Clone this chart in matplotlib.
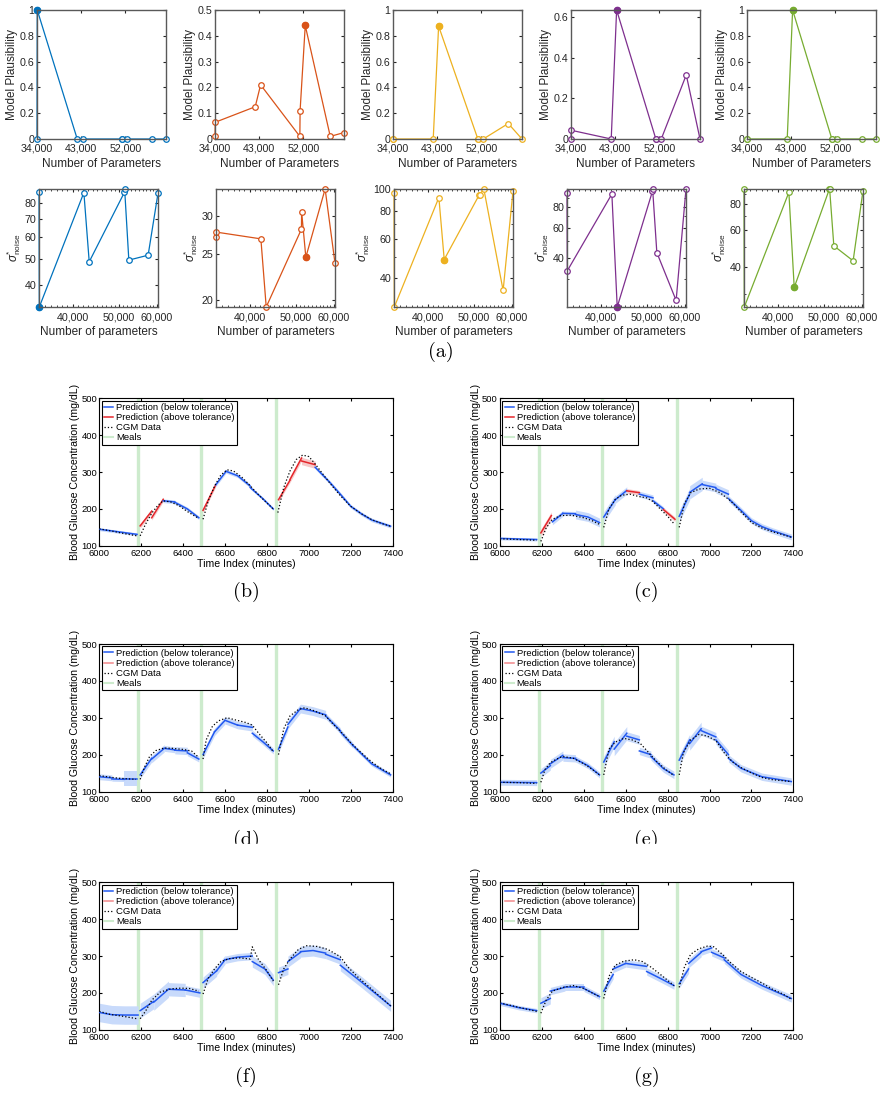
import numpy as np
import matplotlib
matplotlib.use('Agg')
import matplotlib.pyplot as plt
from matplotlib.ticker import FuncFormatter, NullFormatter
from matplotlib.lines import Line2D
from matplotlib.patches import Rectangle

plt.rcParams['font.family'] = ['Liberation Sans', 'DejaVu Sans']
plt.rcParams['mathtext.fontset'] = 'custom'
plt.rcParams['mathtext.rm'] = 'Liberation Sans'
plt.rcParams['mathtext.it'] = 'Liberation Sans:italic'

# ---- (a) model selection data ----
params = [34000, 34050, 42200, 43300, 51300, 51350, 52400, 57500, 60300]
colors = ['#0072BD', '#D95319', '#EDB120', '#7E2F8E', '#77AC30']
best = [1, 6, 3, 3, 3]

plaus_blue = [0, 1, 0, 0, 0, 0, 0, 0, 0]
plaus_orange = [0.01, 0.065, 0.125, 0.21, 0.01, 0.11, 0.44, 0.01, 0.025]
plaus_yellow = [0, 0, 0, 0.875, 0, 0, 0, 0.12, 0]
plaus_purple = [0, 0.043, 0, 0.636, 0, 0, 0, 0.316, 0]
plaus_green = [0, 0, 0, 1, 0, 0, 0, 0, 0]
plaus_top = [1, 0.5, 1, 0.636, 1]
plaus_ticks = [np.arange(0, 1.01, 0.2), np.arange(0, 0.51, 0.1), np.arange(0, 1.01, 0.2),
               np.arange(0, 0.61, 0.2), np.arange(0, 1.01, 0.2)]

noise_blue = [87.8, 33.3, 87.6, 48.8, 87.8, 90.3, 49.5, 51.6, 87.1]
noise_orange = [27.2, 27.8, 26.9, 19.3, 28.2, 30.7, 24.6, 34.3, 23.9]
noise_yellow = [95.5, 29.8, 91.6, 48.5, 94.5, 94.5, 100, 35.3, 97.9]
noise_purple = [95.9, 33.4, 95.0, 20.4, 98.5, 101.7, 42.8, 22.3, 101.7]
noise_green = [94.6, 25.9, 91.2, 32.1, 94.6, 94.6, 50.7, 43.0, 92.9]
noise_ticks = [[40, 50, 60, 70, 80], [20, 25, 30], [40, 60, 80, 100], [40, 60, 80], [40, 60, 80]]
noise_minor = [[90], [], [30, 50, 70, 90], [30, 50, 70, 90, 100], [30, 50, 70, 90]]

# ---- (b)-(g) glucose predictions ----
meals = [6185, 6485, 6845]

b_cgm = [([6000, 6060, 6120, 6180], [146, 140, 133, 127]),
         ([6195, 6220, 6250, 6280, 6305, 6340, 6380, 6420, 6475], [127, 158, 188, 210, 222, 219, 209, 193, 174]),
         ([6495, 6520, 6550, 6580, 6610, 6640, 6680, 6720, 6760, 6800, 6830], [172, 222, 262, 292, 306, 303, 286, 263, 238, 216, 200]),
         ([6852, 6880, 6910, 6940, 6970, 7000, 7030, 7070, 7110, 7150, 7200, 7250, 7300, 7350, 7390],
          [190, 258, 303, 334, 346, 342, 322, 292, 263, 236, 207, 187, 171, 160, 153])]
b_pred = [('b', [6000, 6180], [145, 131], 4),
          ('r', [6195, 6250], [154, 194], 6),
          ('r', [6250, 6305], [176, 226], 6),
          ('b', [6305, 6360], [222, 219], 5),
          ('b', [6360, 6420, 6475], [218, 200, 176], 5),
          ('r', [6495, 6555], [196, 265], 6),
          ('b', [6555, 6605], [265, 302], 5),
          ('b', [6605, 6660, 6720], [302, 290, 262], 5),
          ('b', [6720, 6780, 6830], [258, 228, 200], 4),
          ('r', [6855, 6910], [225, 278], 6),
          ('r', [6910, 6965], [280, 338], 8),
          ('r', [6965, 7030], [330, 320], 10),
          ('b', [7030, 7100, 7150, 7200, 7250, 7300, 7390], [313, 272, 240, 207, 187, 170, 153], 5)]

c_cgm = [([6000, 6090, 6175], [119, 117, 115]),
         ([6195, 6220, 6250, 6290, 6340, 6400, 6440, 6475], [112, 148, 172, 182, 183, 176, 168, 158]),
         ([6495, 6520, 6550, 6580, 6620, 6660, 6700, 6730, 6770, 6800, 6830], [150, 200, 226, 237, 240, 234, 230, 220, 197, 180, 160]),
         ([6855, 6880, 6910, 6950, 7000, 7050, 7100, 7150, 7200, 7250, 7300, 7350, 7390],
          [150, 215, 244, 254, 256, 244, 222, 192, 163, 148, 138, 130, 123])]
c_pred = [('b', [6000, 6175], [120, 117], 4),
          ('r', [6195, 6245], [135, 182], 10),
          ('b', [6250, 6300], [165, 188], 8),
          ('b', [6300, 6360], [188, 187], 6),
          ('b', [6360, 6420, 6475], [185, 178, 163], 12),
          ('b', [6495, 6550], [178, 225], 14),
          ('b', [6550, 6605], [225, 250], 10),
          ('r', [6605, 6665], [249, 244], 6),
          ('b', [6665, 6730], [240, 230], 8),
          ('b', [6730, 6780], [222, 200], 6),
          ('r', [6780, 6835], [198, 172], 6),
          ('b', [6855, 6905], [180, 240], 16),
          ('b', [6905, 6965], [245, 268], 18),
          ('b', [6965, 7030], [266, 258], 12),
          ('b', [7030, 7090], [255, 240], 12),
          ('b', [7090, 7150, 7200, 7250, 7300, 7390], [228, 196, 168, 152, 141, 124], 8)]

d_cgm = [([6000, 6090, 6175], [143, 136, 133]),
         ([6195, 6215, 6240, 6270, 6310, 6350, 6400, 6440, 6475], [133, 165, 195, 211, 218, 217, 214, 210, 192]),
         ([6495, 6510, 6540, 6570, 6610, 6650, 6700, 6730, 6760, 6800, 6830], [188, 240, 277, 292, 300, 294, 287, 280, 258, 232, 208]),
         ([6855, 6880, 6910, 6950, 6980, 7030, 7080, 7120, 7160, 7200, 7250, 7300, 7350, 7390],
          [200, 270, 305, 322, 327, 318, 305, 280, 258, 232, 205, 180, 160, 148])]
d_pred = [('b', [6000, 6060], [140, 137], 8),
          ('b', [6060, 6120], [134, 133], 6),
          ('b', [6120, 6180], [135, 135], 20),
          ('b', [6195, 6250], [145, 190], 10),
          ('b', [6250, 6310], [188, 217], 10),
          ('b', [6310, 6360], [217, 213], 8),
          ('b', [6360, 6420], [212, 210], 10),
          ('b', [6420, 6475], [205, 188], 8),
          ('b', [6495, 6550], [200, 262], 10),
          ('b', [6550, 6600], [262, 293], 10),
          ('b', [6600, 6660], [293, 280], 10),
          ('b', [6660, 6730], [280, 274], 10),
          ('b', [6730, 6780, 6830], [258, 235, 210], 8),
          ('b', [6855, 6900], [215, 275], 10),
          ('b', [6900, 6960], [282, 325], 12),
          ('b', [6960, 7020, 7080], [325, 318, 308], 12),
          ('b', [7080, 7150], [305, 265], 8),
          ('b', [7150, 7210], [262, 225], 8),
          ('b', [7210, 7300, 7390], [225, 175, 145], 6)]

e_cgm = [([6000, 6090, 6175], [125, 124, 122]),
         ([6195, 6215, 6240, 6270, 6300, 6350, 6400, 6440, 6475], [125, 160, 178, 188, 195, 190, 175, 160, 145]),
         ([6495, 6520, 6550, 6590, 6630, 6670, 6710, 6750, 6790, 6830], [145, 215, 234, 244, 240, 230, 205, 180, 160, 143]),
         ([6855, 6875, 6910, 6950, 6990, 7030, 7070, 7110, 7150, 7200, 7250, 7300, 7390],
          [145, 205, 240, 255, 250, 238, 205, 180, 165, 150, 138, 132, 127])]
e_pred = [('b', [6000, 6175], [125, 124], 8),
          ('b', [6195, 6240], [150, 170], 12),
          ('b', [6240, 6300], [175, 198], 12),
          ('b', [6300, 6360], [192, 190], 10),
          ('b', [6360, 6420, 6475], [188, 170, 145], 8),
          ('b', [6495, 6545], [180, 235], 15),
          ('b', [6545, 6605], [215, 258], 18),
          ('b', [6605, 6665], [250, 240], 12),
          ('b', [6665, 6720], [210, 200], 10),
          ('b', [6720, 6780, 6830], [195, 162, 145], 10),
          ('b', [6855, 6905], [185, 240], 15),
          ('b', [6905, 6960], [230, 270], 18),
          ('b', [6960, 7030], [265, 248], 12),
          ('b', [7030, 7090], [240, 200], 12),
          ('b', [7090, 7150, 7250, 7390], [190, 163, 140, 127], 10)]

f_cgm = [([6000, 6050, 6120, 6180], [150, 142, 136, 130]),
         ([6195, 6220, 6250, 6290, 6340, 6390, 6430, 6475], [130, 150, 180, 202, 211, 213, 212, 205]),
         ([6495, 6520, 6550, 6580, 6620, 6670, 6720, 6730, 6760, 6800, 6830], [197, 240, 265, 285, 293, 295, 292, 325, 290, 260, 232]),
         ([6855, 6880, 6910, 6950, 6990, 7040, 7090, 7130, 7150, 7190, 7230, 7300, 7350, 7390],
          [222, 265, 292, 318, 328, 326, 318, 305, 298, 268, 245, 210, 185, 165])]
f_pred = [('b', [6000, 6060, 6120, 6185], [147, 141, 140, 140], 25),
          ('b', [6195, 6260], [152, 177], 20),
          ('b', [6260, 6330], [175, 210], 22),
          ('b', [6330, 6410], [210, 208], 18),
          ('b', [6410, 6480], [208, 200], 12),
          ('b', [6495, 6560], [228, 260], 15),
          ('b', [6560, 6600], [260, 290], 12),
          ('b', [6600, 6660, 6730], [290, 297, 300], 10),
          ('b', [6730, 6790, 6830], [285, 265, 235], 15),
          ('b', [6855, 6900], [255, 265], 15),
          ('b', [6900, 6960], [285, 310], 15),
          ('b', [6960, 7020, 7080], [312, 315, 308], 15),
          ('b', [7080, 7150], [305, 290], 12),
          ('b', [7150, 7250, 7390], [275, 230, 165], 15)]

g_cgm = [([6000, 6060, 6120, 6175], [173, 165, 157, 150]),
         ([6195, 6220, 6250, 6300, 6350, 6400, 6440, 6475], [145, 180, 205, 215, 220, 212, 200, 190]),
         ([6495, 6520, 6550, 6590, 6640, 6680, 6720, 6770, 6830], [185, 245, 275, 286, 290, 285, 270, 248, 220]),
         ([6855, 6880, 6910, 6950, 6990, 7020, 7060, 7100, 7150, 7200, 7250, 7300, 7350, 7390],
          [215, 270, 305, 320, 327, 325, 305, 282, 258, 242, 227, 210, 197, 183])]
g_pred = [('b', [6000, 6090, 6175], [172, 160, 152], 6),
          ('b', [6195, 6240], [172, 185], 15),
          ('b', [6240, 6310], [205, 215], 10),
          ('b', [6310, 6400], [215, 215], 10),
          ('b', [6400, 6475], [212, 190], 8),
          ('b', [6495, 6540], [205, 250], 12),
          ('b', [6540, 6600], [265, 280], 10),
          ('b', [6600, 6700], [280, 272], 10),
          ('b', [6700, 6770, 6830], [258, 238, 220], 10),
          ('b', [6855, 6900], [225, 265], 12),
          ('b', [6900, 6960], [280, 310], 12),
          ('b', [6960, 7010], [312, 322], 10),
          ('b', [7010, 7070], [310, 295], 10),
          ('b', [7070, 7150, 7250, 7390], [290, 250, 220, 185], 10)]

W, H = 887, 1098
fig = plt.figure(figsize=(W / 100, H / 100), dpi=100)


def add_ax(l, t, r, b):
    return fig.add_axes([l / W, 1 - b / H, (r - l) / W, (b - t) / H])


comma = FuncFormatter(lambda v, p: f'{v:,.0f}')
gfmt = FuncFormatter(lambda v, p: f'{v:g}')

# ---- top row: plausibility ----
plaus = [plaus_blue, plaus_orange, plaus_yellow, plaus_purple, plaus_green]
for i, l in enumerate([37, 215, 393, 571, 747]):
    ax = add_ax(l, 10, l + 129, 139)
    c = colors[i]
    ax.plot(params, plaus[i], '-o', color=c, lw=0.9, ms=4, mfc='white', mec=c, mew=0.9, clip_on=False)
    ax.plot(params[best[i]], plaus[i][best[i]], 'o', color=c, ms=4.5, clip_on=False)
    ax.set_xlim(34000, 60300)
    ax.set_ylim(0, plaus_top[i])
    ax.set_xticks([34000, 43000, 52000])
    ax.xaxis.set_major_formatter(comma)
    ax.set_yticks(plaus_ticks[i])
    ax.yaxis.set_major_formatter(gfmt)
    ax.tick_params(direction='in', length=2.5, labelsize=7.7, colors='0.15', top=True, right=True, pad=2)
    ax.tick_params(axis='x', pad=3.5)
    for s in ax.spines.values():
        s.set_color('0.35')
        s.set_linewidth(1.0)
    ax.set_xlabel('Number of Parameters', fontsize=8.5, labelpad=3, color='0.15')
    ax.set_ylabel('Model Plausibility', fontsize=8.5, labelpad=1, color='0.15')

# ---- second row: noise ----
noise = [noise_blue, noise_orange, noise_yellow, noise_purple, noise_green]
for i, l in enumerate([39, 216, 394, 567, 744]):
    ax = add_ax(l, 189, l + 119, 307)
    c = colors[i]
    ax.plot(params, noise[i], '-o', color=c, lw=0.9, ms=4, mfc='white', mec=c, mew=0.9, clip_on=False)
    ax.plot(params[best[i]], noise[i][best[i]], 'o', color=c, ms=4.5, clip_on=False)
    ax.set_xscale('log')
    ax.set_yscale('log')
    ax.set_xlim(34000, 60300)
    ax.set_ylim(min(noise[i]), max(noise[i]))
    ax.set_xticks([40000, 50000, 60000])
    ax.set_xticks(np.arange(35000, 60300, 1000), minor=True)
    ax.xaxis.set_major_formatter(comma)
    ax.xaxis.set_minor_formatter(NullFormatter())
    ax.set_yticks(noise_ticks[i])
    ax.set_yticks(noise_minor[i], minor=True)
    ax.yaxis.set_major_formatter(gfmt)
    ax.yaxis.set_minor_formatter(NullFormatter())
    ax.tick_params(which='both', direction='in', labelsize=7.7, colors='0.15', top=True, right=True, pad=2)
    ax.tick_params(axis='x', which='both', pad=4)
    ax.tick_params(which='major', length=2.5)
    ax.tick_params(which='minor', length=1.5)
    for s in ax.spines.values():
        s.set_color('0.35')
        s.set_linewidth(1.0)
    ax.set_xlabel('Number of parameters', fontsize=8.5, labelpad=2.5, color='0.15')
    ax.set_ylabel(r'$\sigma^{*}_{\rm noise}$', fontsize=8.5, labelpad=1, color='0.15')

fig.text(441 / W, 1 - 352 / H, '(a)', family='cmr10', fontsize=14.5, ha='center', va='center')

# ---- glucose panels ----
blue, red = '#2158F0', '#E5262B'
band_c = {'b': '#C8DAFB', 'r': '#F6C8C8'}
line_c = {'b': blue, 'r': red}
meal_c = '#CDEBCD'

panels = [(b_cgm, b_pred, 99.3, 398.3, '(b)', 592),
          (c_cgm, c_pred, 500, 398.3, '(c)', 592),
          (d_cgm, d_pred, 99.3, 644, '(d)', 840),
          (e_cgm, e_pred, 500, 644, '(e)', 840),
          (f_cgm, f_pred, 99.3, 882.3, '(f)', 1077),
          (g_cgm, g_pred, 500, 882.3, '(g)', 1077)]

for cgm, pred, l, t, lab, ly in panels:
    ax = add_ax(l, t, l + 293.4, t + 147.5)
    for m in meals:
        ax.axvline(m, color=meal_c, lw=2.4, zorder=1)
    for col, ts, vs, bw in pred:
        vs = np.array(vs, float)
        ax.fill_between(ts, vs - bw, vs + bw, color=band_c[col], lw=0, zorder=2)
    for col, ts, vs, bw in pred:
        ax.plot(ts, vs, color=line_c[col], lw=1.1, zorder=3)
    for ts, vs in cgm:
        ax.plot(ts, vs, ':', color='black', lw=0.9, zorder=4)
    ax.set_xlim(6000, 7400)
    ax.set_ylim(100, 500)
    ax.set_xticks(np.arange(6000, 7401, 200))
    ax.set_yticks(np.arange(100, 501, 100))
    ax.tick_params(direction='in', length=2.5, labelsize=6.8, top=True, right=True, pad=1.5)
    ax.tick_params(axis='x', pad=2.5)
    for s in ax.spines.values():
        s.set_linewidth(0.8)
    ax.set_xlabel('Time Index (minutes)', fontsize=7.6, labelpad=0.5)
    ax.set_ylabel('Blood Glucose Concentration (mg/dL)', fontsize=7.6, labelpad=1)
    has_red = any(p[0] == 'r' for p in pred)
    handles = [Line2D([], [], color=blue, lw=1.1),
               Line2D([], [], color=red, lw=1.1, alpha=1 if has_red else 0.55),
               Line2D([], [], color='black', ls=':', lw=0.9),
               Line2D([], [], color=meal_c, lw=1.5)]
    leg = ax.legend(handles, ['Prediction (below tolerance)', 'Prediction (above tolerance)', 'CGM Data', 'Meals'],
                    loc='upper left', fontsize=6.8, handlelength=1.0, handletextpad=0.25, borderpad=0.25,
                    labelspacing=0.12, borderaxespad=0.25, fancybox=False, framealpha=1, edgecolor='black')
    leg.get_frame().set_linewidth(0.8)
    leg.set_zorder(6)
    fig.text((l + 146.7) / W, 1 - ly / H, lab, family='cmr10', fontsize=14.5, ha='center', va='center')

# the (d)/(e) captions are cut off in the source layout
fig.add_artist(Rectangle((0, 1 - 860 / H), 1, 16 / H, transform=fig.transFigure, color='white', zorder=20))

fig.savefig('out.png', dpi=100)
